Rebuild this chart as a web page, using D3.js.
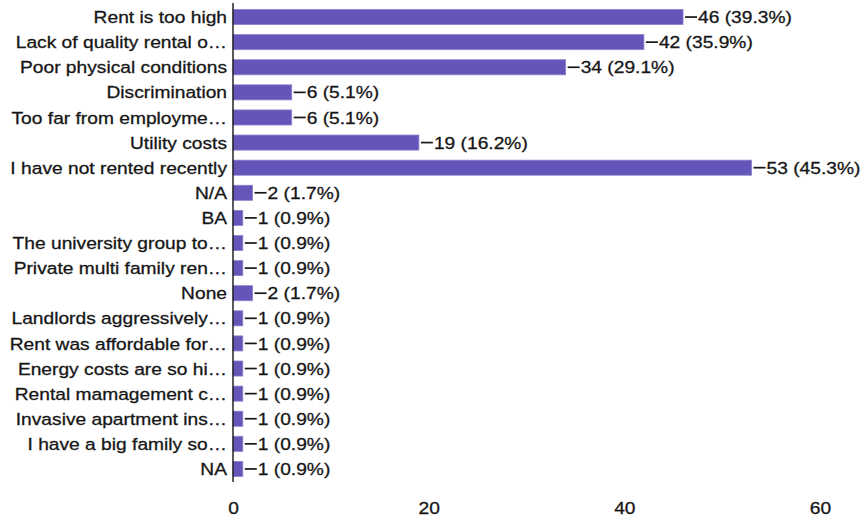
<!DOCTYPE html>
<html>
<head>
<meta charset="utf-8">
<script src="https://cdn.jsdelivr.net/npm/d3@7"></script>
<style>
  html, body { margin: 0; padding: 0; background: #fff; }
  svg { display: block; }
  text { font-family: "Liberation Sans", Arial, Helvetica, sans-serif; fill: #161616; stroke: #161616; stroke-width: 0.3px; }
</style>
</head>
<body>
<svg id="chart" width="865" height="518"></svg>
<script>
// Survey responses: reasons renting is difficult
const categories = [
  "Rent is too high",
  "Lack of quality rental o\u2026",
  "Poor physical conditions",
  "Discrimination",
  "Too far from employme\u2026",
  "Utility costs",
  "I have not rented recently",
  "N/A",
  "BA",
  "The university group to\u2026",
  "Private multi family ren\u2026",
  "None",
  "Landlords aggressively\u2026",
  "Rent was affordable for\u2026",
  "Energy costs are so hi\u2026",
  "Rental mamagement c\u2026",
  "Invasive apartment ins\u2026",
  "I have a big family so\u2026",
  "NA"
];
const counts = [46, 42, 34, 6, 6, 19, 53, 2, 1, 1, 1, 2, 1, 1, 1, 1, 1, 1, 1];
const respondents = 117;
const xTicks = [0, 20, 40, 60];

const svg = d3.select("#chart");
const fontSize = 17;
const stretch = 1.13;   // wide lettering

const x = d3.scaleLinear().domain([0, 60]).range([233, 820]);
const y = d3.scaleBand().domain(categories).range([4.5, 481.5]).paddingInner(0.4).paddingOuter(0.2);

const rows = categories.map((c, i) => ({ name: c, value: counts[i] }));

// bars
svg.append("g").selectAll("rect").data(rows).join("rect")
  .attr("x", x(0))
  .attr("y", d => y(d.name))
  .attr("width", d => x(d.value) - x(0))
  .attr("height", y.bandwidth())
  .attr("fill", "#6456b9")
  .attr("stroke", "#8a80cf")
  .attr("stroke-width", 0.8);

// category labels
svg.append("g").selectAll("text").data(rows).join("text")
  .attr("transform", d => `translate(${x(0) - 6},${y(d.name) + y.bandwidth() / 2}) scale(${stretch},1)`)
  .attr("text-anchor", "end")
  .attr("dy", "0.36em")
  .style("font-size", fontSize + "px")
  .text(d => d.name);

// value leaders + labels
const vals = svg.append("g");
vals.selectAll("line").data(rows).join("line")
  .attr("x1", d => x(d.value) + 2)
  .attr("x2", d => x(d.value) + 14)
  .attr("y1", d => y(d.name) + y.bandwidth() / 2)
  .attr("y2", d => y(d.name) + y.bandwidth() / 2)
  .attr("stroke", "#161616")
  .attr("stroke-width", 1.7);
vals.selectAll("text").data(rows).join("text")
  .attr("transform", d => `translate(${x(d.value) + 15},${y(d.name) + y.bandwidth() / 2}) scale(${stretch},1)`)
  .attr("dy", "0.36em")
  .style("font-size", fontSize + "px")
  .text(d => `${d.value} (${(d.value / respondents * 100).toFixed(1)}%)`);

// value axis (labels only)
const xAxis = d3.axisBottom(x).tickValues(xTicks).tickSize(0).tickPadding(0);
const gx = svg.append("g").attr("transform", "translate(0,502)").call(xAxis);
gx.select(".domain").remove();
gx.selectAll(".tick text")
  .attr("transform", `scale(${stretch},1)`)
  .attr("y", 0)
  .attr("dy", "0.71em")
  .style("font-size", fontSize + "px")
  .attr("font-family", null)
  .attr("fill", "#161616");

// category axis line
svg.append("line")
  .attr("x1", x(0)).attr("x2", x(0))
  .attr("y1", 3).attr("y2", 482)
  .attr("stroke", "#161616")
  .attr("stroke-width", 1.4);
</script>
</body>
</html>
